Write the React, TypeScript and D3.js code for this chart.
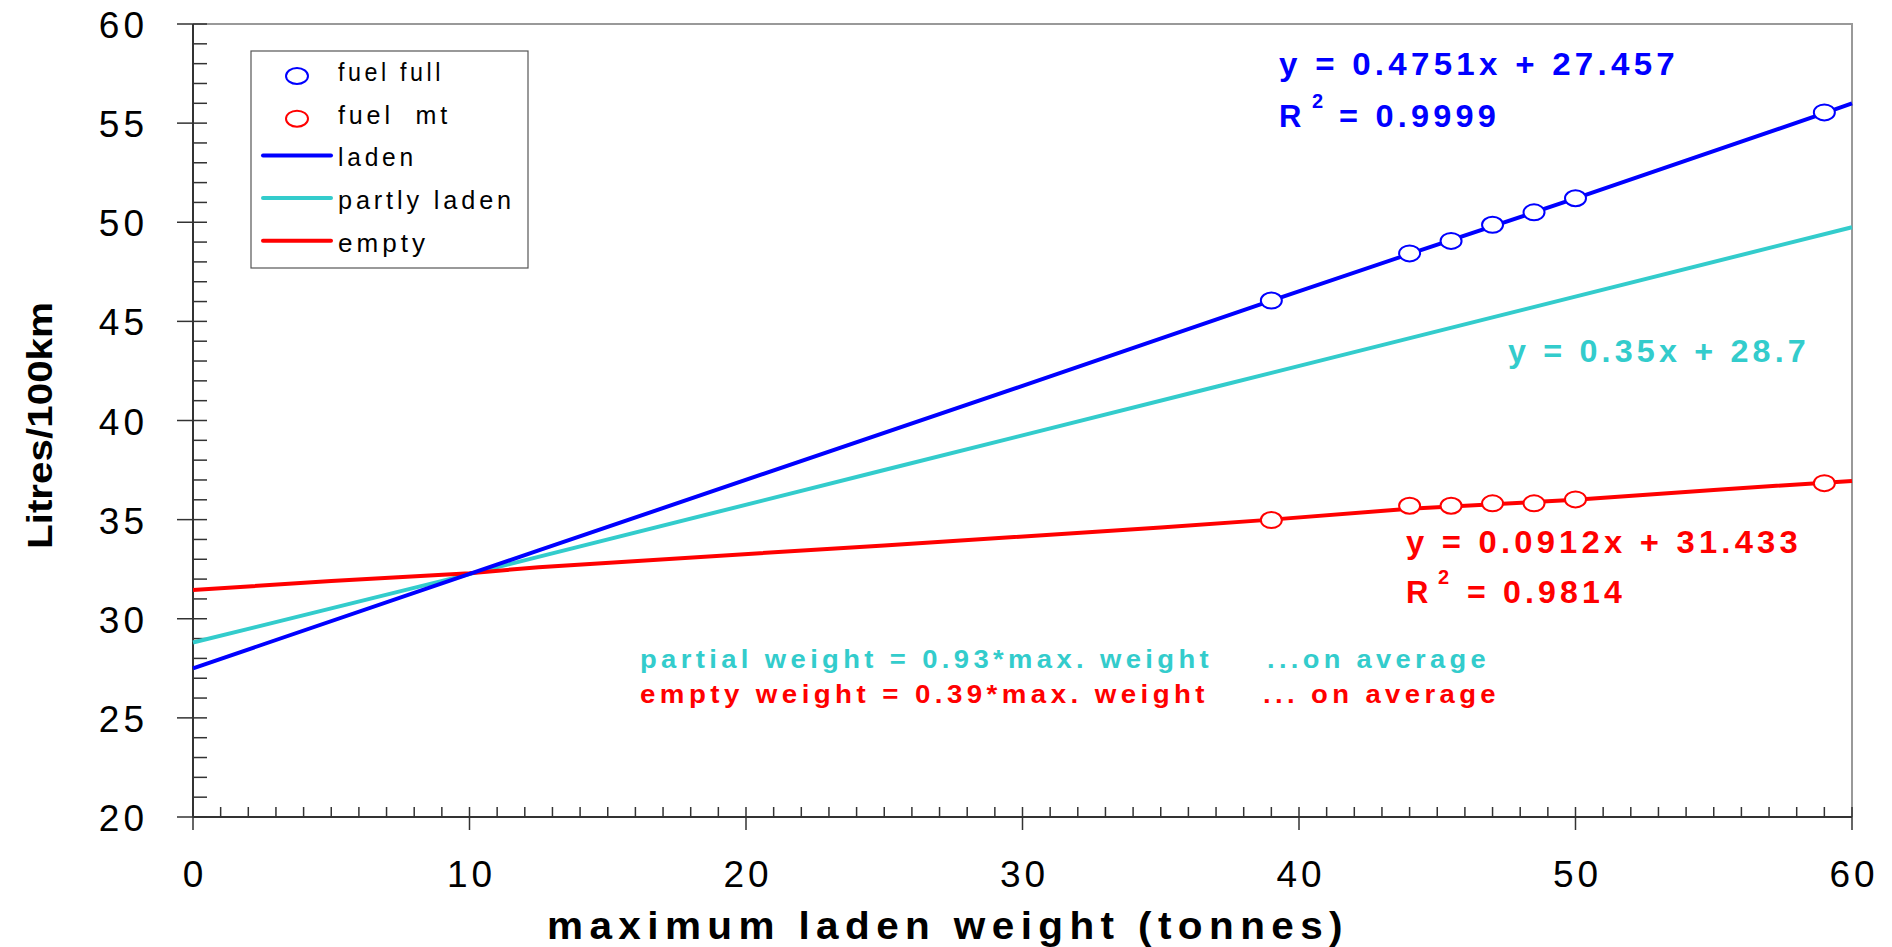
import React, { useRef, useEffect } from "react";
import { select, scaleLinear, line, range } from "d3";

// fitted lines
const ladenX = [0, 12.5, 30, 39, 44, 50, 59, 60];
const ladenY = [27.5, 33.45, 41.75, 46.05, 48.4, 51.2, 55.5, 56.0];
const partlyX = [0, 10, 25, 37, 47, 60];
const partlyY = [28.8, 32.25, 37.5, 41.7, 45.2, 49.75];
const emptyX = [0, 5, 10, 12.5, 25, 35, 39, 44, 50, 55, 60];
const emptyY = [31.45, 31.9, 32.3, 32.6, 33.7, 34.6, 35.0, 35.55, 36.0, 36.5, 36.95];

// measured points
const fullX = [39, 44, 45.5, 47, 48.5, 50, 59];
const fullY = [46.05, 48.43, 49.06, 49.87, 50.5, 51.21, 55.54];
const mtX = [39, 44, 45.5, 47, 48.5, 50, 59];
const mtY = [34.98, 35.7, 35.7, 35.82, 35.82, 36.02, 36.84];

const xTicks = [0, 10, 20, 30, 40, 50, 60];
const yTicks = [20, 25, 30, 35, 40, 45, 50, 55, 60];

const BLUE = "#0000ff";
const CYAN = "#33cccc";
const RED = "#ff0000";
const FONT = "'Liberation Sans', Arial, sans-serif";

export default function App() {
  const svgRef = useRef<SVGSVGElement>(null);

  useEffect(() => {
    const svg = select(svgRef.current);
    svg.selectAll("*").remove();

    const x = scaleLinear().domain([0, 60]).range([193, 1852]);
    const y = scaleLinear().domain([20, 60]).range([817, 24]);

    const g = svg.append("g");

    // frame top / right
    g.append("path")
      .attr("d", `M${x(0)},${y(60)}H${x(60)}V${y(20)}`)
      .attr("fill", "none")
      .attr("stroke", "#999")
      .attr("stroke-width", 2);

    // axes
    g.append("line").attr("x1", x(0)).attr("x2", x(0)).attr("y1", y(60)).attr("y2", y(20))
      .attr("stroke", "#333").attr("stroke-width", 2);
    g.append("line").attr("x1", x(0)).attr("x2", x(60)).attr("y1", y(20)).attr("y2", y(20))
      .attr("stroke", "#333").attr("stroke-width", 2);

    // y ticks
    range(20, 61, 1).forEach((v) => {
      const major = v % 5 === 0;
      g.append("line")
        .attr("x1", major ? x(0) - 16 : x(0))
        .attr("x2", x(0) + 14)
        .attr("y1", y(v)).attr("y2", y(v))
        .attr("stroke", "#333").attr("stroke-width", 1.5);
    });
    // x ticks
    range(0, 61, 1).forEach((v) => {
      const major = v % 10 === 0;
      g.append("line")
        .attr("x1", x(v)).attr("x2", x(v))
        .attr("y1", y(20) - 10)
        .attr("y2", major ? y(20) + 13 : y(20))
        .attr("stroke", "#333").attr("stroke-width", 1.5);
    });

    g.selectAll(".ylab").data(yTicks).enter().append("text")
      .attr("x", 148).attr("y", (d) => y(d) + 14)
      .attr("text-anchor", "end")
      .attr("font-family", FONT).attr("font-size", 37)
      .attr("letter-spacing", 4)
      .text((d) => d);

    g.selectAll(".xlab").data(xTicks).enter().append("text")
      .attr("x", (d) => x(d) + 2).attr("y", 887)
      .attr("text-anchor", "middle")
      .attr("font-family", FONT).attr("font-size", 37)
      .attr("letter-spacing", 4)
      .text((d) => d);

    // axis titles
    g.append("text")
      .attr("x", 547).attr("y", 939)
      .attr("font-family", FONT).attr("font-size", 38).attr("font-weight", "bold")
      .attr("letter-spacing", 6)
      .attr("textLength", 802).attr("lengthAdjust", "spacingAndGlyphs")
      .text("maximum laden weight (tonnes)");
    g.append("text")
      .attr("transform", "translate(52,549) rotate(-90)")
      .attr("font-family", FONT).attr("font-size", 35).attr("font-weight", "bold")
      .attr("textLength", 247).attr("lengthAdjust", "spacingAndGlyphs")
      .text("Litres/100km");

    // lines
    const mk = (xs: number[], ys: number[]) =>
      line<number>().x((d, i) => x(xs[i])).y((d, i) => y(ys[i]))(xs);
    const series = [
      { xs: partlyX, ys: partlyY, c: CYAN },
      { xs: emptyX, ys: emptyY, c: RED },
      { xs: ladenX, ys: ladenY, c: BLUE },
    ];
    series.forEach((s) => {
      g.append("path").attr("d", mk(s.xs, s.ys)).attr("fill", "none")
        .attr("stroke", s.c).attr("stroke-width", 4);
    });

    // markers
    const pts = [
      { xs: fullX, ys: fullY, c: BLUE },
      { xs: mtX, ys: mtY, c: RED },
    ];
    pts.forEach((p) => {
      g.selectAll(null).data(p.xs).enter().append("ellipse")
        .attr("cx", (d) => x(d)).attr("cy", (d, i) => y(p.ys[i]))
        .attr("rx", 10.5).attr("ry", 8)
        .attr("fill", "#fff").attr("stroke", p.c).attr("stroke-width", 2);
    });

    // legend
    const lg = g.append("g");
    lg.append("rect").attr("x", 251).attr("y", 51).attr("width", 277).attr("height", 217)
      .attr("fill", "#fff").attr("stroke", "#555").attr("stroke-width", 1.2);
    const legItems = [
      { label: "fuel full", c: BLUE, kind: "dot", w: 106 },
      { label: "fuel  mt", c: RED, kind: "dot", w: 113 },
      { label: "laden", c: BLUE, kind: "line", w: 79 },
      { label: "partly laden", c: CYAN, kind: "line", w: 177 },
      { label: "empty", c: RED, kind: "line", w: 91 },
    ];
    legItems.forEach((it, i) => {
      const cy = 76 + i * 42.7;
      if (it.kind === "dot") {
        lg.append("ellipse").attr("cx", 297).attr("cy", cy).attr("rx", 11).attr("ry", 8)
          .attr("fill", "#fff").attr("stroke", it.c).attr("stroke-width", 2);
      } else {
        lg.append("line").attr("x1", 263).attr("x2", 331).attr("y1", cy - 6).attr("y2", cy - 6)
          .attr("stroke", it.c).attr("stroke-width", 4).attr("stroke-linecap", "round");
      }
      lg.append("text").attr("x", 338).attr("y", cy + 5)
        .attr("font-family", FONT).attr("font-size", 26).attr("letter-spacing", 4)
        .attr("textLength", it.w).attr("lengthAdjust", "spacingAndGlyphs")
        .style("white-space", "pre")
        .text(it.label);
    });

    // annotations
    const ann = (t: string, ax: number, ay: number, c: string, size: number, len?: number) => {
      const el = g.append("text").attr("x", ax).attr("y", ay)
        .attr("fill", c).attr("font-family", FONT).attr("font-size", size)
        .attr("font-weight", "bold").style("white-space", "pre").text(t);
      if (len) el.attr("letter-spacing", 4).attr("textLength", len).attr("lengthAdjust", "spacingAndGlyphs");
      return el;
    };
    ann("y = 0.4751x + 27.457", 1279, 75, BLUE, 31, 400);
    ann("R", 1279, 127, BLUE, 31);
    ann("2", 1312, 108, BLUE, 20);
    ann("= 0.9999", 1339, 127, BLUE, 31, 161);

    ann("y = 0.35x + 28.7", 1508, 362, CYAN, 31, 302);

    ann("y = 0.0912x + 31.433", 1406, 553, RED, 31, 396);
    ann("R", 1406, 603, RED, 31);
    ann("2", 1438, 584, RED, 20);
    ann("= 0.9814", 1467, 603, RED, 31, 159);

    ann("partial weight = 0.93*max. weight", 640, 668, CYAN, 25, 573);
    ann("...on average", 1267, 668, CYAN, 25, 223);
    ann("empty weight = 0.39*max. weight", 640, 703, RED, 25, 569);
    ann("... on average", 1263, 703, RED, 25, 237);
  }, []);

  return (
    <svg
      ref={svgRef}
      width={1892}
      height={947}
      style={{ position: "absolute", left: 0, top: 0, background: "#fff" }}
    />
  );
}
